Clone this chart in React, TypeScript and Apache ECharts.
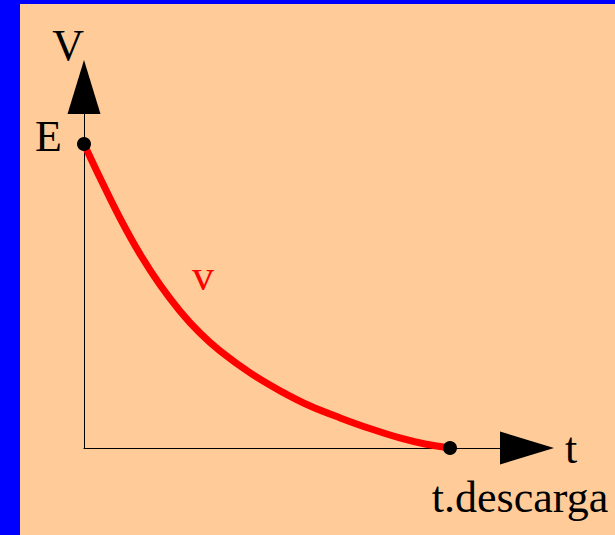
import React, { useEffect, useRef } from "react";
import * as echarts from "echarts";

// Discharge curve (normalised: E = 1, t.descarga = 1)
const tValues = [0, 0.044, 0.098, 0.153, 0.208, 0.262, 0.317, 0.372, 0.454, 0.536, 0.618, 0.7, 0.781, 0.863, 0.932, 1.0];
const vValues = [1, 0.888, 0.757, 0.638, 0.536, 0.451, 0.378, 0.319, 0.247, 0.188, 0.138, 0.099, 0.064, 0.033, 0.013, 0];

// Marked end points and their labels
const dotT = [0, 1];
const dotV = [1, 0];
const dotLabels = ["E", "t.descarga"];

const xAxisName = "t";
const yAxisName = "V";
const curveName = "v";

const FONT = "'Liberation Serif', 'Times New Roman', serif";
const FS = 44;

export default function App() {
  const ref = useRef<HTMLDivElement>(null);

  useEffect(() => {
    document.body.style.margin = "0";
    if (!ref.current) return;
    const chart = echarts.init(ref.current, undefined, { renderer: "svg" });

    const axisBase = {
      type: "value" as const,
      min: 0,
      axisTick: { show: false },
      axisLabel: { show: false },
      splitLine: { show: false },
      axisLine: {
        show: true,
        symbol: ["none", "triangle"],
        symbolSize: [33, 54],
        lineStyle: { color: "#000", width: 1 },
      },
    };

    chart.setOption({
      animation: false,
      backgroundColor: "#FFCC99",
      grid: { left: 64, top: 83, width: 443, height: 361 },
      xAxis: {
        ...axisBase,
        max: 1.2104,
        name: xAxisName,
        nameLocation: "end",
        nameGap: 38,
        nameTextStyle: {
          fontFamily: FONT,
          fontSize: FS,
          color: "#000",
          padding: [0, 0, 20, 0],
        },
      },
      yAxis: {
        ...axisBase,
        max: 1.1875,
        name: yAxisName,
        nameLocation: "end",
        nameGap: 20,
        nameTextStyle: {
          fontFamily: FONT,
          fontSize: FS,
          color: "#000",
          align: "right",
        },
      },
      series: [
        {
          type: "line",
          data: tValues.map((t, i) => [t, vValues[i]]),
          smooth: 0.3,
          showSymbol: false,
          lineStyle: { color: "#FF0000", width: 7 },
          z: 2,
        },
        {
          type: "scatter",
          symbolSize: 14,
          itemStyle: { color: "#000", opacity: 1 },
          z: 3,
          data: dotT.map((t, i) => ({
            value: [t, dotV[i]],
            label: {
              show: true,
              formatter: dotLabels[i],
              fontFamily: FONT,
              fontSize: FS,
              color: "#000",
              opacity: 1,
              ...(i === 0
                ? { position: "left", distance: 15, offset: [0, -8] }
                : { position: "bottom", distance: 20, offset: [70, 0] }),
            },
          })),
        },
      ],
      graphic: [
        {
          type: "text",
          x: 183,
          y: 271,
          style: {
            text: curveName,
            fill: "#FF0000",
            font: `${FS}px ${FONT}`,
            align: "center",
            verticalAlign: "middle",
          },
        },
      ],
    });

    return () => chart.dispose();
  }, []);

  return (
    <div style={{ width: 615, height: 535, background: "#0000FF", overflow: "hidden" }}>
      <div
        ref={ref}
        style={{ width: 595, height: 531, marginLeft: 20, position: "relative", top: 4 }}
      />
    </div>
  );
}
